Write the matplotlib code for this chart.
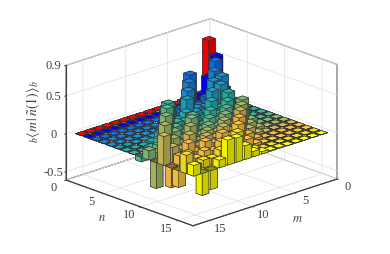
import numpy as np
import matplotlib
matplotlib.use("Agg")
import matplotlib.pyplot as plt
from matplotlib.colors import to_rgb
from mpl_toolkits.mplot3d import proj3d

plt.rcParams['font.family'] = ['Liberation Serif', 'DejaVu Serif']
plt.rcParams['mathtext.fontset'] = 'stix'

# valores leidos a ojo, fila = n, columna = m
alturas = [
    [.71, .03, .02, .01, .00, .00, .00, .00, .00, .00, .00, .00, .00, .00, .00, .00],
    [.53, .29, .08, .02, .01, .00, .00, .00, .00, .00, .00, .00, .00, .00, .00, .00],
    [.15, .54, .10, .05, .47, .06, .02, .01, .00, .00, .00, .00, .00, .00, .00, .00],
    [.03, .20, .48, .10, .10, .44, .08, .03, .01, .00, .00, .00, .00, .00, .00, .00],
    [.01, .05, .45, .42, .12, .14, .40, .10, .09, .02, .00, .00, .00, .00, .00, .00],
    [.00, .02, .12, .41, .36, .12, .16, .36, .14, .26, .06, .01, .00, .00, .00, .00],
    [.00, .01, .05, .34, .18, .30, .11, .16, .26, .20, .43, .10, .02, .00, .00, .00],
    [.00, .00, .10, .14, .30, .17, .25, .10, .16, .22, .24, .52, .09, .02, .00, .00],
    [.00, .00, .02, .20, .18, .28, .16, .22, .11, .33, .14, .25, .53, .08, .02, -.06],
    [.00, .00, .01, .10, .39, .17, .27, .15, .20, .11, .36, .14, .26, .50, .06, .12],
    [.00, .00, .00, .03, .12, .39, .17, .26, .15, .20, .11, .33, .14, .24, .45, -.34],
    [.00, .00, .00, .00, .03, .12, .39, .17, .25, .15, .20, .11, .29, .14, .20, .38],
    [.00, .00, .00, .00, .00, .03, .12, .37, .17, .24, .15, .20, .11, .25, .12, -.26],
    [.00, .00, .00, .00, .00, .00, .03, .12, .35, .16, .20, .12, .15, .09, .19, -.22],
    [.00, .00, .00, .00, .00, .00, .00, .03, .10, .32, .13, .16, .09, .10, .07, .24],
    [.00, .00, .00, .00, .00, .01, .01, .03, .07, .18, .32, .33, .10, -.25, -.29, .14],
]
colores_fila = ['#ff0000', '#0000ff', '#0f6fe8', '#1a80dc', '#1e90d4', '#18a0c8',
                '#20b0b0', '#30b8a0', '#50bb90', '#80bb78', '#a8bb60', '#c8bb58',
                '#f8ba45', '#fcc83a', '#f8e020', '#ffff00']
ticks_xy = [0, 5, 10, 15]
ticks_z = [-0.5, 0, 0.5, 0.9]
etiquetas_z = ['-0.5', '0', '0.5', '0.9']

gris = '#404040'
fig = plt.figure(figsize=(3.9, 2.55), dpi=100)
ax = fig.add_axes([0, 0, 1, 1], projection='3d', proj_type='ortho')
ax.view_init(elev=20, azim=46.5)
ax.set_box_aspect((198.6, 184.6, 122))
ax.computed_zorder = False

# dibujo de atras para adelante, cada barra sola, asi no se mezclan las caras
orden = sorted([(i, j) for i in range(16) for j in range(16)], key=lambda t: t[0] + t[1])
for k, (i, j) in enumerate(orden):
    v = alturas[i][j]
    c = np.array(to_rgb(colores_fila[i]))
    # abajo, arriba, -y, +y, -x, +x
    caras = [c * 0.6, c, c * 0.6, c * 0.78, c * 0.6, c * 0.95]
    ax.bar3d(j + 1 - 0.4, i + 1 - 0.4, 0, 0.8, 0.8, v if abs(v) > 0.001 else 0.001,
             color=caras, edgecolor='#303030', linewidth=0.4, shade=False, zorder=5 + k * 0.01)

ax.set_xlim(0, 17)
ax.set_ylim(0, 17)
ax.set_zlim(-0.61, 0.9)
ax.set_xticks(ticks_xy)
ax.set_yticks(ticks_xy)
ax.set_zticks(ticks_z)
ax.set_zticklabels(etiquetas_z)
for eje in (ax.xaxis, ax.yaxis, ax.zaxis):
    eje.set_pane_color((1, 1, 1, 1))
    eje.pane.set_edgecolor('#666666')
    eje.pane.set_linewidth(0.8)
    eje.line.set_color(gris)
    eje.line.set_linewidth(0.8)
    eje._axinfo['grid'].update(color='#e4e4e4', linewidth=0.6)
    eje._axinfo['tick'].update(inward_factor=0.12, outward_factor=0.0, linewidth={True: 0.6, False: 0.4})
ax.tick_params(labelsize=9, colors=gris)
ax.tick_params(axis='x', pad=1)
ax.tick_params(axis='y', pad=1)
ax.tick_params(axis='z', pad=-3)
ax.zaxis.set_ticks_position('lower')
for t in ax.zaxis.get_ticklabels():
    t.set_va('center')
for t in ax.xaxis.get_ticklabels() + ax.yaxis.get_ticklabels():
    t.set_va('bottom')

# acomodo los ejes para que las esquinas caigan donde estan en la original
fig.canvas.draw()
def esquinas():
    M = ax.get_proj()
    salida = []
    for p in [(17, 0, -0.61), (0, 17, -0.61)]:
        x, y, _ = proj3d.proj_transform(p[0], p[1], p[2], M)
        salida.append(ax.transData.transform((x, y)))
    return salida
for _ in range(3):
    izq, der = esquinas()
    pos = ax.get_position()
    esc = 271.0 / (der[0] - izq[0])
    lado = pos.width * 390 * esc
    centro_x = pos.x0 * 390 + pos.width * 390 / 2 + (66 - izq[0])
    centro_y = pos.y0 * 255 + pos.height * 255 / 2 + ((255 - 181) - izq[1])
    ax.set_position([(centro_x - lado / 2) / 390, (centro_y - lado / 2) / 255, lado / 390, lado / 255])
    fig.canvas.draw()

fig.text(33 / 390, 1 - 112 / 255, r'$_{b}\langle m\,|\,\tilde{n}(1)\rangle_{b}$', rotation=90,
         ha='center', va='center', fontsize=10, color=gris)
fig.text(102 / 390, 1 - 218 / 255, r'$n$', ha='center', va='center', fontsize=9, color=gris)
fig.text(297 / 390, 1 - 219 / 255, r'$m$', ha='center', va='center', fontsize=9, color=gris)

fig.savefig('out.png', dpi=100)
